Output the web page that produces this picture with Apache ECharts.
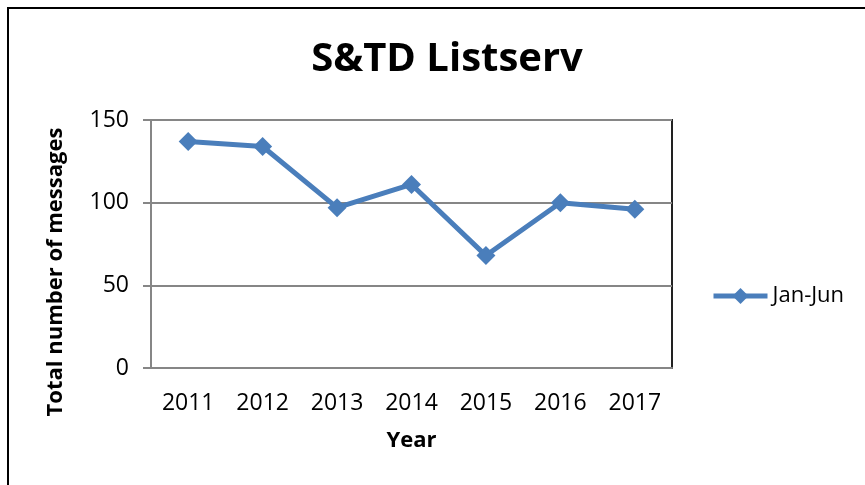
<!DOCTYPE html>
<html lang="en">
<head>
    <meta charset="UTF-8">
    <title>S&amp;TD Listserv</title>
    <script src="https://cdn.jsdelivr.net/npm/echarts@6/dist/echarts.min.js"></script>
    <style>
        body { margin: 0; background: #fff; }
    </style>
</head>
<body>
    <div id="chart" style="width: 865px; height: 485px;"></div>
    <script>
        // data
        var years = ["2011", "2012", "2013", "2014", "2015", "2016", "2017"];
        var janJun = [137, 134, 97, 111, 68, 100, 96];
        var yTicks = [0, 50, 100, 150];

        var font = "'Open Sans', sans-serif";
        var blue = "#4a7ebb";

        var chart = echarts.init(document.getElementById("chart"));

        chart.setOption({
            backgroundColor: "#fff",
            animation: false,
            textStyle: { fontFamily: font },
            title: {
                text: "S&TD Listserv",
                left: 442,
                top: 35,
                textAlign: "center",
                textStyle: { fontFamily: font, fontSize: 40, fontWeight: "bold", color: "#000" }
            },
            graphic: [{
                type: "rect",
                shape: { x: 8, y: 8, width: 900, height: 520 },
                style: { fill: "none", stroke: "#000", lineWidth: 2 },
                silent: true
            }],
            legend: {
                left: 706,
                top: 280,
                itemWidth: 54,
                itemHeight: 20,
                textStyle: { fontFamily: font, fontSize: 22, color: "#000" },
                lineStyle: { width: 5 },
                data: ["Jan-Jun"]
            },
            grid: {
                left: 151,
                top: 120,
                right: 193,
                bottom: 117,
                show: true,
                borderColor: "#222",
                borderWidth: 2
            },
            xAxis: {
                type: "category",
                data: years,
                name: "Year",
                nameLocation: "middle",
                nameGap: 62,
                nameTextStyle: { fontFamily: font, fontSize: 22, fontWeight: "bold", color: "#000" },
                axisLine: { lineStyle: { color: "#868686", width: 2 } },
                axisTick: { show: false },
                axisLabel: { margin: 24, fontSize: 23, color: "#000", fontFamily: font }
            },
            yAxis: {
                type: "value",
                min: yTicks[0],
                max: yTicks[yTicks.length - 1],
                interval: 50,
                name: "Total number of messages",
                nameLocation: "middle",
                nameGap: 84,
                nameTextStyle: {
                    fontFamily: font, fontSize: 22, fontWeight: "bold", color: "#000",
                    padding: [0, 56, 0, 0]
                },
                axisLine: { show: true, lineStyle: { color: "#868686", width: 2 } },
                axisTick: { show: true, length: 8, lineStyle: { color: "#868686", width: 2 } },
                axisLabel: { margin: 22, fontSize: 23, color: "#000", fontFamily: font },
                splitLine: { lineStyle: { color: "#868686", width: 2 } }
            },
            series: [{
                name: "Jan-Jun",
                type: "line",
                data: janJun,
                symbol: "diamond",
                symbolSize: 19,
                itemStyle: { color: blue },
                lineStyle: { color: blue, width: 5 }
            }]
        });
    </script>
</body>
</html>
